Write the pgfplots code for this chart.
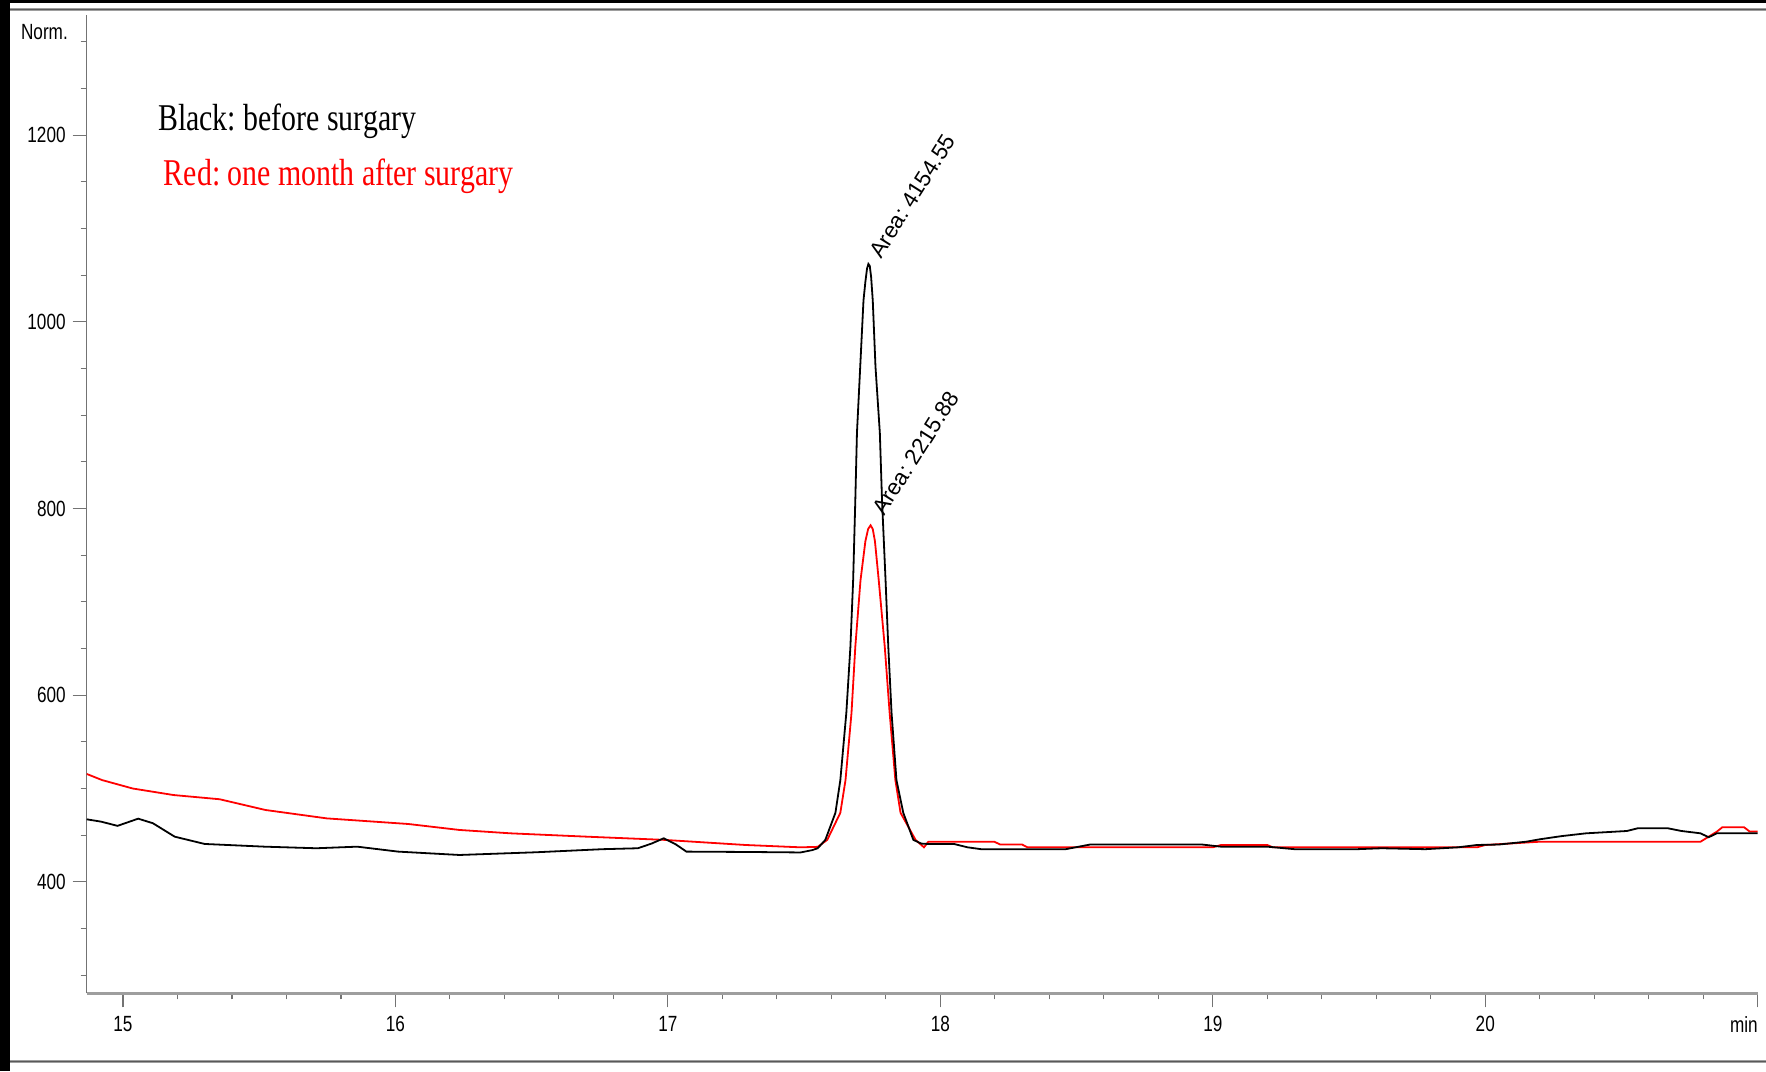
\documentclass[border=0pt]{standalone}
\usepackage{fontspec}
\setmainfont{Liberation Sans}
\newfontfamily\ticksans[FakeStretch=0.78]{Liberation Sans}
\newfontfamily\legserif[FakeStretch=0.79]{Liberation Serif}
\usepackage{pgfplots}
\pgfplotsset{compat=1.18}
\definecolor{axgray}{gray}{0.45}
\definecolor{framegray}{gray}{0.62}
\frenchspacing
\begin{document}
\begin{tikzpicture}
\fill[white] (0,0) rectangle (883pt,535.5pt);
\fill[black] (0,0) rectangle (5pt,535.5pt);
\fill[black] (0,534pt) rectangle (883pt,535.5pt);
\draw[framegray, line width=1.6pt] (5pt,530.75pt) -- (883pt,530.75pt);
\draw[gray!70!black, line width=0.5pt] (5pt,530.75pt) -- (883pt,530.75pt);
\draw[framegray, line width=1.6pt] (5pt,4.75pt) -- (883pt,4.75pt);
\draw[gray!70!black, line width=0.5pt] (5pt,4.75pt) -- (883pt,4.75pt);
\begin{axis}[
  at={(43.35pt,38.8pt)}, anchor=south west,
  scale only axis, width=835.5pt, height=489.2pt,
  xmin=14.867, xmax=21.0, ymin=280.5, ymax=1328.7,
  axis x line*=bottom, axis y line*=left,
  x axis line style={-, color=framegray, line width=1.2pt},
  y axis line style={-, color=axgray, line width=0.5pt},
  xtick={15,16,17,18,19,20,21},
  xticklabels={15,16,17,18,19,20,\makebox[0pt][r]{min}},
  minor xtick={15.2,15.4,15.6,15.8,16.2,16.4,16.6,16.8,17.2,17.4,17.6,17.8,18.2,18.4,18.6,18.8,19.2,19.4,19.6,19.8,20.2,20.4,20.6,20.8},
  ytick={400,600,800,1000,1200},
  minor ytick={300,350,450,500,550,650,700,750,850,900,950,1050,1100,1150,1250,1300},
  tick align=outside,
  major tick length=7pt, minor tick length=3pt,
  tick style={color=axgray, line width=0.6pt},
  ticklabel style={font=\ticksans\fontsize{11}{13}\selectfont},
  xticklabel style={yshift=-1pt},
  /pgf/number format/assume math mode=true,
  /pgf/number format/1000 sep={},
  scaled ticks=false,
]
\addplot[red, line width=0.9pt] coordinates {
(14.867,515.6) (14.924,509) (15.036,500) (15.186,493) (15.355,488.5) (15.523,477)
(15.748,468) (16.047,462) (16.235,455.6) (16.422,452) (16.703,448.4) (16.985,445)
(17.285,439.5) (17.487,437) (17.55,437.5) (17.585,445) (17.633,474) (17.652,509)
(17.674,581) (17.688,652) (17.707,723) (17.725,765) (17.735,778) (17.744,782)
(17.752,778) (17.760,765)
(17.774,723) (17.796,652) (17.814,581) (17.835,509) (17.854,474) (17.909,445)
(17.94,437) (17.956,443) (18.198,443) (18.22,440) (18.30,440) (18.32,437)
(19.0,437) (19.03,439.5) (19.20,439.5) (19.22,437) (19.97,437) (20.0,439.5)
(20.2,443) (20.79,443) (20.85,453.8) (20.87,458.5) (20.95,458.5) (20.97,454) (21.0,454)
};
\addplot[black, line width=0.9pt] coordinates {
(14.867,467) (14.92,464.5) (14.98,460) (15.056,467.7) (15.11,462.8) (15.19,448.4)
(15.30,440.6) (15.52,437.7) (15.71,436) (15.86,437.7) (16.01,432.4) (16.235,428.8)
(16.516,431.7) (16.76,435) (16.89,436) (16.94,441) (16.985,446.7) (17.03,440)
(17.068,432.4) (17.30,432) (17.487,431.5) (17.53,434) (17.55,436) (17.578,445)
(17.615,474) (17.633,509) (17.655,581) (17.670,652) (17.680,723) (17.688,809)
(17.694,881) (17.706,952) (17.718,1023) (17.725,1043) (17.731,1057) (17.736,1062)
(17.741,1060) (17.746,1048)
(17.752,1023) (17.762,952) (17.778,881) (17.786,809) (17.799,723) (17.809,652)
(17.821,581) (17.839,509) (17.864,474) (17.901,445) (17.93,441) (17.956,440.6)
(18.05,440.6) (18.10,437) (18.15,435) (18.46,435) (18.55,440) (18.96,440)
(19.03,437.7) (19.20,437.7) (19.30,435) (19.53,435) (19.62,436) (19.78,435)
(19.90,437) (19.97,439.5) (20.05,440) (20.15,443) (20.2,445.6) (20.28,449)
(20.37,452) (20.52,454.5) (20.56,457.4) (20.67,457.4) (20.72,454.5) (20.79,452)
(20.82,447.8) (20.85,452) (21.0,452)
};
\node[rotate=57.7, anchor=base west, inner sep=0pt, font=\fontsize{11.2}{13}\selectfont] at (axis cs:17.782,1066) {Area: 4154.55};
\node[rotate=57.7, anchor=base west, inner sep=0pt, font=\fontsize{11.2}{13}\selectfont] at (axis cs:17.796,791) {Area: 2215.88};
\node[anchor=base west, inner sep=0pt, font=\legserif\fontsize{18.9}{22}\selectfont] at (axis cs:15.128,1204.8) {Black: before surgary};
\node[anchor=base west, inner sep=0pt, text=red, font=\legserif\fontsize{18.9}{22}\selectfont] at (axis cs:15.149,1145.9) {Red: one month after surgary};
\end{axis}
\node[anchor=base east, inner sep=0pt, font=\ticksans\fontsize{11}{13}\selectfont] at (34.1pt,515.5pt) {Norm.};
\pgfresetboundingbox
\useasboundingbox (0,0) rectangle (883pt,535.5pt);
\end{tikzpicture}
\end{document}
